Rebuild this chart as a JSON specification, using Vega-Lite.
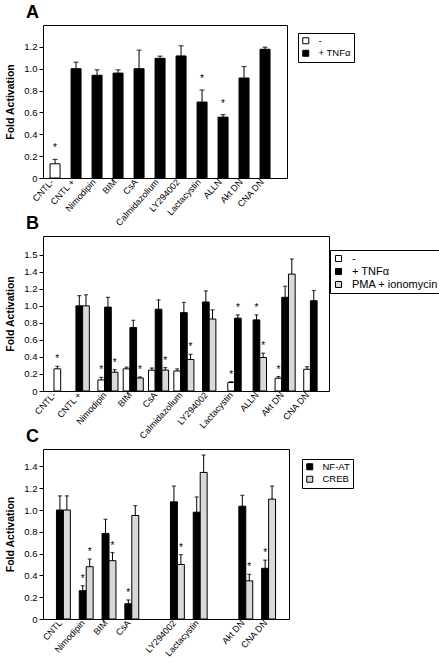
{
  "$schema": "https://vega.github.io/schema/vega-lite/v6.json",
  "padding": {"left": 5, "top": 3, "right": 0, "bottom": 0},
  "background": "white",
  "spacing": -14,
  "config": {
    "font": "Liberation Sans",
    "view": {"stroke": "black", "strokeWidth": 1},
    "axis": {"labelFont": "Liberation Sans", "titleFont": "Liberation Sans", "labelColor": "black", "titleColor": "black", "domain": false, "grid": false},
    "axisX": {"ticks": false, "labelAngle": -48, "labelFontSize": 9, "labelPadding": 2, "labelOffset": -3},
    "axisY": {"tickColor": "black", "tickSize": 4, "labelFontSize": 9.5, "labelPadding": 2, "titleFontSize": 10.5, "titleFontWeight": "bold", "titlePadding": 8},
    "title": {"fontSize": 18, "fontWeight": "bold", "anchor": "start", "frame": "group", "dx": -17, "offset": 3, "color": "black", "font": "Liberation Sans"},
    "legend": {"orient": "none", "strokeColor": "black", "fillColor": "white", "padding": 3, "symbolType": "square", "symbolSize": 36, "symbolStrokeColor": "black", "symbolStrokeWidth": 1, "labelFontSize": 9.5, "rowPadding": 1.5, "labelOffset": 8, "labelColor": "black", "labelFont": "Liberation Sans"}
  },
  "resolve": {"scale": {"color": "independent", "x": "independent", "y": "independent", "xOffset": "independent"}, "legend": {"color": "independent"}},
  "vconcat": [
    {
      "title": "A",
      "width": 244,
      "height": 153,
      "data": {"values": [
        {"cat": "CNTL-", "s": "-", "v": 0.13, "hi": 0.17, "star": true},
        {"cat": "CNTL +", "s": "+ TNFα", "v": 1.0, "hi": 1.06, "star": false},
        {"cat": "Nimodipin", "s": "+ TNFα", "v": 0.94, "hi": 0.99, "star": false},
        {"cat": "BIM", "s": "+ TNFα", "v": 0.96, "hi": 0.99, "star": false},
        {"cat": "CsA", "s": "+ TNFα", "v": 1.0, "hi": 1.17, "star": false},
        {"cat": "Calmidazolium", "s": "+ TNFα", "v": 1.095, "hi": 1.115, "star": false},
        {"cat": "LY294002", "s": "+ TNFα", "v": 1.117, "hi": 1.21, "star": false},
        {"cat": "Lactacystin", "s": "+ TNFα", "v": 0.695, "hi": 0.805, "star": true},
        {"cat": "ALLN", "s": "+ TNFα", "v": 0.557, "hi": 0.58, "star": true},
        {"cat": "Akt DN", "s": "+ TNFα", "v": 0.915, "hi": 1.02, "star": false},
        {"cat": "CNA DN", "s": "+ TNFα", "v": 1.178, "hi": 1.197, "star": false}
      ]},
      "encoding": {
        "x": {"field": "cat", "type": "nominal", "scale": {"domain": ["CNTL-", "CNTL +", "Nimodipin", "BIM", "CsA", "Calmidazolium", "LY294002", "Lactacystin", "ALLN", "Akt DN", "CNA DN"], "paddingInner": 0, "paddingOuter": 0.31, "align": 0.12}, "axis": {"title": null}},
        "y": {"field": "v", "type": "quantitative", "scale": {"domain": [0, 1.4], "nice": false}, "axis": {"title": "Fold Activation", "values": [0, 0.2, 0.4, 0.6, 0.8, 1.0, 1.2], "labelExpr": "datum.value == 0 ? '0' : format(datum.value, '.1f')"}}
      },
      "layer": [
        {
          "mark": {"type": "bar", "width": 10, "stroke": "black", "strokeWidth": 1},
          "encoding": {
            "color": {"field": "s", "type": "nominal", "scale": {"domain": ["-", "+ TNFα"], "range": ["white", "black"]}, "legend": {"title": null, "legendX": 255, "legendY": 8}}
          }
        },
        {
          "mark": {"type": "rule", "color": "black", "strokeWidth": 1},
          "encoding": {"y2": {"field": "hi"}}
        },
        {
          "mark": {"type": "tick", "color": "black", "size": 5, "thickness": 1.2},
          "encoding": {"y": {"field": "hi", "type": "quantitative"}}
        },
        {
          "transform": [{"filter": "datum.star"}],
          "mark": {"type": "text", "text": "*", "fontSize": 10, "dy": -8, "baseline": "alphabetic", "fill": "black"},
          "encoding": {"y": {"field": "hi", "type": "quantitative"}}
        }
      ]
    },
    {
      "title": "B",
      "width": 286,
      "height": 155,
      "data": {"values": [
        {"cat": "CNTL-", "s": "-", "v": 0.26, "hi": 0.29, "star": true},
        {"cat": "CNTL +", "s": "+ TNFα", "v": 1.0, "hi": 1.12, "star": false},
        {"cat": "CNTL +", "s": "PMA + ionomycin", "v": 1.0, "hi": 1.13, "star": false},
        {"cat": "Nimodipin", "s": "-", "v": 0.13, "hi": 0.16, "star": true},
        {"cat": "Nimodipin", "s": "+ TNFα", "v": 0.985, "hi": 1.1, "star": false},
        {"cat": "Nimodipin", "s": "PMA + ionomycin", "v": 0.22, "hi": 0.25, "star": true},
        {"cat": "BIM", "s": "-", "v": 0.26, "hi": 0.28, "star": false},
        {"cat": "BIM", "s": "+ TNFα", "v": 0.745, "hi": 0.83, "star": false},
        {"cat": "BIM", "s": "PMA + ionomycin", "v": 0.153, "hi": 0.165, "star": true},
        {"cat": "CsA", "s": "-", "v": 0.245, "hi": 0.27, "star": false},
        {"cat": "CsA", "s": "+ TNFα", "v": 0.96, "hi": 1.07, "star": false},
        {"cat": "CsA", "s": "PMA + ionomycin", "v": 0.245, "hi": 0.275, "star": true},
        {"cat": "Calmidazolium", "s": "-", "v": 0.235, "hi": 0.26, "star": false},
        {"cat": "Calmidazolium", "s": "+ TNFα", "v": 0.92, "hi": 1.04, "star": false},
        {"cat": "Calmidazolium", "s": "PMA + ionomycin", "v": 0.37, "hi": 0.43, "star": true},
        {"cat": "LY294002", "s": "+ TNFα", "v": 1.045, "hi": 1.175, "star": false},
        {"cat": "LY294002", "s": "PMA + ionomycin", "v": 0.845, "hi": 0.953, "star": false},
        {"cat": "Lactacystin", "s": "-", "v": 0.1, "hi": 0.11, "star": true},
        {"cat": "Lactacystin", "s": "+ TNFα", "v": 0.855, "hi": 0.894, "star": true},
        {"cat": "ALLN", "s": "+ TNFα", "v": 0.835, "hi": 0.894, "star": true},
        {"cat": "ALLN", "s": "PMA + ionomycin", "v": 0.393, "hi": 0.444, "star": true},
        {"cat": "Akt DN", "s": "-", "v": 0.15, "hi": 0.17, "star": true},
        {"cat": "Akt DN", "s": "+ TNFα", "v": 1.1, "hi": 1.23, "star": false},
        {"cat": "Akt DN", "s": "PMA + ionomycin", "v": 1.373, "hi": 1.55, "star": false},
        {"cat": "CNA DN", "s": "-", "v": 0.255, "hi": 0.285, "star": false},
        {"cat": "CNA DN", "s": "+ TNFα", "v": 1.06, "hi": 1.18, "star": false}
      ]},
      "transform": [
        {"calculate": "indexof(['-', '+ TNFα', 'PMA + ionomycin'], datum.s)", "as": "ord"},
        {"window": [{"op": "row_number", "as": "rk"}, {"op": "count", "as": "n"}], "groupby": ["cat"], "sort": [{"field": "ord"}], "frame": [null, null]},
        {"calculate": "datum.rk - (datum.n + 1) / 2", "as": "off"}
      ],
      "encoding": {
        "x": {"field": "cat", "type": "nominal", "scale": {"domain": ["CNTL-", "CNTL +", "Nimodipin", "BIM", "CsA", "Calmidazolium", "LY294002", "Lactacystin", "ALLN", "Akt DN", "CNA DN"], "paddingInner": 0, "paddingOuter": 0.15, "align": 0.22}, "axis": {"title": null}},
        "xOffset": {"field": "off", "type": "quantitative", "scale": {"domain": [-1.89, 1.89]}},
        "y": {"field": "v", "type": "quantitative", "scale": {"domain": [0, 1.82], "nice": false}, "axis": {"title": "Fold Activation", "values": [0, 0.2, 0.4, 0.6, 0.8, 1.0, 1.2, 1.4, 1.6], "labelExpr": "datum.value == 0 ? '0' : datum.value > 1.55 ? '1.5' : format(datum.value, '.1f')"}}
      },
      "layer": [
        {
          "mark": {"type": "bar", "width": 6.7, "stroke": "black", "strokeWidth": 1},
          "encoding": {
            "color": {"field": "s", "type": "nominal", "scale": {"domain": ["-", "+ TNFα", "PMA + ionomycin"], "range": ["white", "black", "#d9d9d9"]}, "legend": {"title": null, "legendX": 287, "legendY": 14, "labelFontSize": 11, "rowPadding": 1}}
          }
        },
        {
          "mark": {"type": "rule", "color": "black", "strokeWidth": 1},
          "encoding": {"y2": {"field": "hi"}}
        },
        {
          "mark": {"type": "tick", "color": "black", "size": 4, "thickness": 1.2},
          "encoding": {"y": {"field": "hi", "type": "quantitative"}}
        },
        {
          "transform": [{"filter": "datum.star"}],
          "mark": {"type": "text", "text": "*", "fontSize": 10, "dy": -4, "baseline": "alphabetic", "fill": "black"},
          "encoding": {"y": {"field": "hi", "type": "quantitative"}}
        }
      ]
    },
    {
      "title": "C",
      "width": 246,
      "height": 170,
      "data": {"values": [
        {"cat": "CNTL", "s": "NF-AT", "v": 1.0, "hi": 1.13, "star": false},
        {"cat": "CNTL", "s": "CREB", "v": 1.0, "hi": 1.13, "star": false},
        {"cat": "Nimodipin", "s": "NF-AT", "v": 0.26, "hi": 0.305, "star": true},
        {"cat": "Nimodipin", "s": "CREB", "v": 0.48, "hi": 0.55, "star": true},
        {"cat": "BIM", "s": "NF-AT", "v": 0.785, "hi": 0.915, "star": false},
        {"cat": "BIM", "s": "CREB", "v": 0.535, "hi": 0.61, "star": true},
        {"cat": "CsA", "s": "NF-AT", "v": 0.14, "hi": 0.175, "star": true},
        {"cat": "CsA", "s": "CREB", "v": 0.95, "hi": 1.04, "star": false},
        {"cat": "LY294002", "s": "NF-AT", "v": 1.075, "hi": 1.22, "star": false},
        {"cat": "LY294002", "s": "CREB", "v": 0.5, "hi": 0.59, "star": true},
        {"cat": "Lactacystin", "s": "NF-AT", "v": 0.98, "hi": 1.12, "star": false},
        {"cat": "Lactacystin", "s": "CREB", "v": 1.345, "hi": 1.505, "star": false},
        {"cat": "Akt DN", "s": "NF-AT", "v": 1.035, "hi": 1.135, "star": false},
        {"cat": "Akt DN", "s": "CREB", "v": 0.35, "hi": 0.41, "star": true},
        {"cat": "CNA DN", "s": "NF-AT", "v": 0.465, "hi": 0.54, "star": true},
        {"cat": "CNA DN", "s": "CREB", "v": 1.1, "hi": 1.22, "star": false}
      ]},
      "encoding": {
        "x": {"field": "cat", "type": "nominal", "scale": {"domain": ["CNTL", "Nimodipin", "BIM", "CsA", "gap1", "LY294002", "Lactacystin", "gap2", "Akt DN", "CNA DN"], "paddingInner": 0.39, "paddingOuter": 0.59}, "axis": {"title": null, "labelExpr": "indexof(datum.label, 'gap') >= 0 ? '' : datum.label"}},
        "xOffset": {"field": "s", "type": "nominal", "scale": {"domain": ["NF-AT", "CREB"], "paddingInner": 0, "paddingOuter": 0}},
        "y": {"field": "v", "type": "quantitative", "scale": {"domain": [0, 1.56], "nice": false}, "axis": {"title": "Fold Activation", "values": [0, 0.2, 0.4, 0.6, 0.8, 1.0, 1.2, 1.4], "labelExpr": "datum.value == 0 ? '0' : format(datum.value, '.1f')"}}
      },
      "layer": [
        {
          "mark": {"type": "bar", "stroke": "black", "strokeWidth": 1},
          "encoding": {
            "color": {"field": "s", "type": "nominal", "scale": {"domain": ["NF-AT", "CREB"], "range": ["black", "#d9d9d9"]}, "legend": {"title": null, "legendX": 259, "legendY": 10}}
          }
        },
        {
          "mark": {"type": "rule", "color": "black", "strokeWidth": 1},
          "encoding": {"y2": {"field": "hi"}}
        },
        {
          "mark": {"type": "tick", "color": "black", "size": 4, "thickness": 1.2},
          "encoding": {"y": {"field": "hi", "type": "quantitative"}}
        },
        {
          "transform": [{"filter": "datum.star"}],
          "mark": {"type": "text", "text": "*", "fontSize": 10, "dy": -4, "baseline": "alphabetic", "fill": "black"},
          "encoding": {"y": {"field": "hi", "type": "quantitative"}}
        }
      ]
    }
  ]
}
